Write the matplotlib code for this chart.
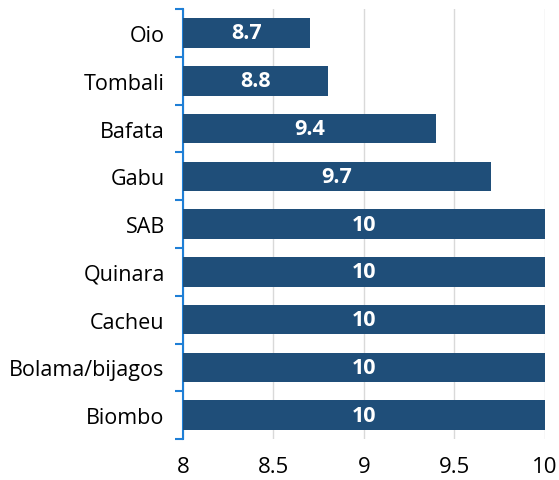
import matplotlib.pyplot as plt
import numpy as np

plt.rcParams['font.family'] = ['Open Sans', 'DejaVu Sans']

# data (top to bottom as shown)
regions = ['Oio', 'Tombali', 'Bafata', 'Gabu', 'SAB', 'Quinara', 'Cacheu', 'Bolama/bijagos', 'Biombo']
scores = [8.7, 8.8, 9.4, 9.7, 10, 10, 10, 10, 10]
xticks = [8, 8.5, 9, 9.5, 10]
xticklabels = ['8', '8.5', '9', '9.5', '10']

bar_color = '#1F4E79'
axis_blue = '#1F7FD6'

fig = plt.figure(figsize=(5.59, 4.81), dpi=100)
ax = fig.add_axes([0.327, 0.085, 0.648, 0.894])

y = np.arange(len(regions))[::-1]
bars = ax.barh(y, [s - 8 for s in scores], left=8, height=0.62, color=bar_color, zorder=3)

for yi, s in zip(y, scores):
    label = f'{s:g}'
    ax.text((8 + s) / 2, yi, label, ha='center', va='center', color='white',
            fontsize=15.5, fontweight='bold', zorder=4)

ax.set_xlim(8, 10)
ax.set_ylim(-0.5, len(regions) - 0.5)
ax.set_xticks(xticks)
ax.set_xticklabels(xticklabels, fontsize=16)
ax.tick_params(axis='x', length=0, pad=12)
ax.xaxis.grid(True, color='#D9D9D9', linewidth=1, zorder=0)

ax.set_yticks(y)
ax.set_yticklabels(regions, fontsize=15.5)
ax.tick_params(axis='y', which='major', length=0, pad=13)
ax.set_yticks(np.arange(-0.5, len(regions)), minor=True)
ax.tick_params(axis='y', which='minor', length=6, width=1.5, color=axis_blue, direction='out')

for side in ['top', 'right', 'bottom']:
    ax.spines[side].set_visible(False)
ax.spines['left'].set_color(axis_blue)
ax.spines['left'].set_linewidth(1.5)

fig.savefig('out.png', dpi=100)
